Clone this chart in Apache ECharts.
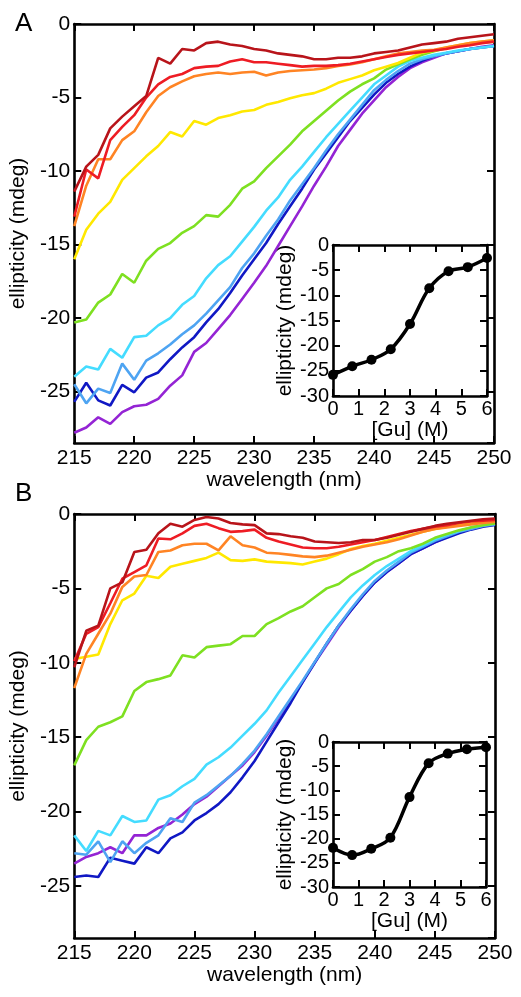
<!DOCTYPE html>
<html>
<head>
<meta charset="utf-8">
<script src="https://cdn.jsdelivr.net/npm/echarts@6/dist/echarts.min.js"></script>
<style>
html,body{margin:0;padding:0;background:#fff;}
#chart{width:521px;height:997px;}
</style>
</head>
<body>
<div id="chart"></div>
<script>
// ---------- data ----------
const wavelength = [215,216,217,218,219,220,221,222,223,224,225,226,227,228,229,230,231,232,233,234,235,236,237,238,239,240,241,242,243,244,245,246,247,248,249,250];
const seriesColors = ['#b8141a','#ee1c24','#ff8424','#ffe800','#7ee021','#44dcff','#4ea4f2','#1018c4','#9424d4'];

// Panel A spectra (mdeg)
const A_darkred = [-11.4,-9.7,-8.9,-7.1,-6.3,-5.6,-4.9,-2.3,-2.7,-1.7,-1.8,-1.3,-1.2,-1.4,-1.5,-1.7,-1.8,-2.0,-2.1,-2.2,-2.4,-2.4,-2.3,-2.3,-2.2,-2.0,-1.9,-1.8,-1.6,-1.4,-1.3,-1.2,-1.0,-0.9,-0.8,-0.7];
const A_red = [-13.1,-9.9,-10.5,-7.9,-7.0,-6.2,-5.0,-4.1,-3.6,-3.4,-3.0,-2.9,-2.85,-2.55,-2.4,-2.6,-2.6,-2.7,-2.8,-2.9,-2.85,-2.85,-2.8,-2.7,-2.55,-2.4,-2.25,-2.1,-2.0,-1.9,-1.8,-1.7,-1.55,-1.45,-1.3,-1.2];
const A_orange = [-13.75,-11.0,-9.2,-9.2,-7.9,-7.3,-6.0,-4.9,-4.3,-3.9,-3.55,-3.4,-3.3,-3.4,-3.3,-3.25,-3.5,-3.3,-3.2,-3.15,-3.1,-3.0,-2.85,-2.75,-2.6,-2.4,-2.2,-2.0,-1.9,-1.8,-1.75,-1.6,-1.45,-1.3,-1.2,-1.1];
const A_yellow = [-16.0,-14.0,-12.9,-12.1,-10.6,-9.8,-9.0,-8.3,-7.35,-7.65,-6.6,-6.85,-6.4,-6.2,-5.95,-5.85,-5.5,-5.3,-5.05,-4.85,-4.7,-4.4,-4.0,-3.75,-3.5,-3.15,-2.9,-2.65,-2.3,-1.95,-1.8,-1.6,-1.45,-1.3,-1.2,-1.1];
const A_green = [-20.3,-20.1,-18.95,-18.4,-17.0,-17.6,-16.1,-15.3,-14.9,-14.2,-13.75,-13.0,-13.1,-12.3,-11.2,-10.7,-9.8,-9.0,-8.2,-7.3,-6.6,-5.9,-5.2,-4.6,-4.1,-3.7,-3.1,-2.75,-2.4,-2.1,-1.85,-1.65,-1.5,-1.35,-1.25,-1.2];
const A_cyan = [-24.0,-23.3,-23.5,-22.1,-22.7,-21.3,-21.2,-20.5,-20.0,-19.1,-18.5,-17.3,-16.4,-15.8,-14.8,-13.8,-12.7,-11.8,-10.6,-9.7,-8.7,-7.7,-6.8,-5.9,-5.0,-4.1,-3.5,-2.9,-2.5,-2.3,-2.1,-1.95,-1.8,-1.7,-1.6,-1.5];
const A_lightblue = [-24.5,-25.8,-24.8,-25.1,-23.1,-24.2,-22.9,-22.4,-21.8,-21.1,-20.5,-19.7,-18.8,-17.9,-16.6,-15.6,-14.4,-13.3,-12.0,-10.9,-9.8,-8.6,-7.5,-6.5,-5.5,-4.5,-3.8,-3.2,-2.7,-2.4,-2.2,-2.0,-1.85,-1.7,-1.6,-1.5];
const A_blue = [-25.7,-24.4,-25.6,-25.95,-24.55,-25.05,-24.05,-23.7,-22.8,-22.0,-21.3,-20.3,-19.4,-18.3,-17.1,-16.0,-14.9,-13.6,-12.4,-11.2,-9.9,-8.8,-7.7,-6.6,-5.7,-4.8,-4.0,-3.4,-2.9,-2.5,-2.2,-2.0,-1.85,-1.7,-1.6,-1.5];
const A_purple = [-27.8,-27.45,-26.75,-27.2,-26.4,-26.0,-25.9,-25.5,-24.6,-23.9,-22.3,-21.7,-20.75,-19.8,-18.7,-17.6,-16.45,-15.1,-13.75,-12.4,-11.0,-9.7,-8.3,-7.2,-6.1,-5.2,-4.3,-3.6,-3.0,-2.6,-2.3,-2.0,-1.85,-1.7,-1.55,-1.45];

// Panel B spectra (mdeg)
const B_darkred = [-10.3,-7.85,-7.5,-5.0,-4.6,-2.55,-2.4,-1.3,-0.65,-0.85,-0.4,-0.2,-0.3,-0.6,-0.7,-0.75,-1.3,-1.35,-1.5,-1.6,-1.85,-1.9,-1.95,-1.9,-1.75,-1.75,-1.6,-1.4,-1.2,-1.0,-0.8,-0.65,-0.55,-0.45,-0.35,-0.3];
const B_red = [-9.9,-8.05,-7.6,-6.0,-4.35,-3.9,-3.45,-1.65,-1.7,-1.3,-0.8,-0.65,-0.95,-1.2,-1.15,-1.05,-1.6,-1.85,-2.05,-2.25,-2.3,-2.3,-2.2,-2.05,-1.9,-1.75,-1.55,-1.35,-1.15,-1.0,-0.85,-0.75,-0.6,-0.5,-0.45,-0.4];
const B_orange = [-11.7,-9.4,-8.05,-6.7,-4.9,-4.2,-4.1,-2.55,-2.45,-2.1,-2.0,-2.0,-2.45,-1.5,-2.1,-2.25,-2.6,-2.65,-2.75,-2.85,-2.9,-2.8,-2.6,-2.4,-2.2,-2.05,-1.9,-1.7,-1.45,-1.2,-1.0,-0.9,-0.8,-0.7,-0.6,-0.52];
const B_yellow = [-9.75,-9.6,-9.45,-7.4,-5.8,-5.35,-4.15,-4.3,-3.55,-3.35,-3.15,-2.95,-2.6,-3.1,-3.15,-3.05,-3.2,-3.25,-3.3,-3.4,-3.2,-3.0,-2.7,-2.35,-2.15,-2.0,-1.8,-1.6,-1.4,-1.2,-1.0,-0.85,-0.75,-0.65,-0.55,-0.5];
const B_green = [-16.9,-15.2,-14.3,-14.0,-13.6,-11.9,-11.3,-11.1,-10.85,-9.5,-9.65,-8.95,-8.85,-8.75,-8.2,-8.2,-7.4,-7.0,-6.55,-6.2,-5.6,-5.0,-4.7,-4.1,-3.7,-3.2,-2.9,-2.5,-2.3,-2.0,-1.6,-1.35,-1.1,-0.9,-0.75,-0.63];
const B_cyan = [-21.6,-22.65,-21.3,-21.6,-20.3,-20.7,-20.6,-19.2,-18.9,-18.3,-17.8,-16.85,-16.35,-15.7,-14.9,-14.1,-13.2,-12.0,-10.9,-9.8,-8.7,-7.6,-6.6,-5.6,-4.8,-4.1,-3.5,-3.0,-2.5,-2.1,-1.7,-1.4,-1.15,-0.9,-0.75,-0.63];
const B_lightblue = [-22.8,-22.9,-22.0,-23.4,-22.0,-22.8,-22.1,-21.6,-20.45,-20.7,-19.4,-18.9,-18.25,-17.6,-16.8,-15.9,-14.8,-13.6,-12.4,-11.2,-9.95,-8.7,-7.5,-6.4,-5.4,-4.5,-3.8,-3.2,-2.6,-2.2,-1.8,-1.5,-1.2,-1.0,-0.8,-0.7];
const B_blue = [-24.4,-24.3,-24.4,-23.1,-23.3,-23.5,-22.4,-22.8,-21.8,-21.4,-20.6,-20.1,-19.5,-18.7,-17.7,-16.6,-15.3,-14.0,-12.7,-11.3,-10.0,-8.7,-7.5,-6.5,-5.5,-4.6,-3.9,-3.3,-2.7,-2.3,-1.9,-1.6,-1.3,-1.05,-0.85,-0.74];
const B_purple = [-23.5,-23.05,-22.8,-22.4,-22.8,-21.6,-21.6,-21.1,-20.8,-20.2,-19.5,-19.0,-18.3,-17.6,-16.9,-16.0,-14.9,-13.7,-12.5,-11.3,-10.0,-8.8,-7.6,-6.5,-5.5,-4.6,-3.9,-3.3,-2.7,-2.3,-1.9,-1.55,-1.25,-1.0,-0.8,-0.7];

// Insets: ellipticity vs [Gu]
const gu = [0,0.75,1.5,2.25,3,3.75,4.5,5.25,6];
const insetA = [-25.8,-24.1,-22.8,-20.7,-15.7,-8.6,-5.2,-4.4,-2.6];
const insetB = [-21.9,-23.4,-22.1,-19.8,-11.4,-4.4,-2.4,-1.5,-1.1];

// tick labels
const xTicksMain = [215,220,225,230,235,240,245,250];
const panelLabels = ['A','B'];

// ---------- chart ----------
const FONT = '"Liberation Sans", Arial, Helvetica, sans-serif';
const chart = echarts.init(document.getElementById('chart'), null, {renderer:'canvas'});

function axisBase(showLabel, fs, margin){
  return {
    axisLine:{show:true, onZero:false, lineStyle:{color:'#000', width:2.6}},
    axisTick:{show:true, inside:true, length:7, lineStyle:{color:'#000', width:2}},
    axisLabel:{show:showLabel, color:'#000', fontSize:fs, fontFamily:FONT, margin:margin},
    splitLine:{show:false}
  };
}

const grids = [
  {left:73, top:24, width:421, height:419},
  {left:333, top:245, width:154, height:151},
  {left:73, top:514, width:422, height:424},
  {left:333, top:742, width:153, height:145}
];

const xAxes = [];
const yAxes = [];
// main grids (0 and 2)
[0,2].forEach(g => {
  xAxes.push(Object.assign(axisBase(true,21,5), {
    type:'value', gridIndex:g, position:'bottom', min:xTicksMain[0], max:xTicksMain[xTicksMain.length-1], interval:5,
    name:'wavelength (nm)', nameLocation:'middle', nameGap:25,
    nameTextStyle:{color:'#000', fontSize:21, fontFamily:FONT}
  }));
  xAxes.push(Object.assign(axisBase(false,21,5), {
    type:'value', gridIndex:g, position:'top', min:xTicksMain[0], max:xTicksMain[xTicksMain.length-1], interval:5
  }));
  const yl = axisBase(true,21,4);
  yl.axisLabel.showMinLabel = false;
  yAxes.push(Object.assign(yl, {
    type:'value', gridIndex:g, position:'left', min:-28.5, max:0, splitNumber:5,
    name:'ellipticity (mdeg)', nameLocation:'middle', nameGap:40, nameRotate:90,
    nameTextStyle:{color:'#000', fontSize:21, fontFamily:FONT}
  }));
  yAxes.push(Object.assign(axisBase(false,21,4), {
    type:'value', gridIndex:g, position:'right', min:-28.5, max:0, splitNumber:5
  }));
});
// inset grids (1 and 3)
[1,3].forEach(g => {
  xAxes.push(Object.assign(axisBase(true,20,3), {
    type:'value', gridIndex:g, position:'bottom', min:0, max:6, interval:1,
    name:'[Gu] (M)', nameLocation:'middle', nameGap:23,
    nameTextStyle:{color:'#000', fontSize:21, fontFamily:FONT}
  }));
  xAxes.push(Object.assign(axisBase(false,20,3), {
    type:'value', gridIndex:g, position:'top', min:0, max:6, interval:1
  }));
  yAxes.push(Object.assign(axisBase(true,20,4), {
    type:'value', gridIndex:g, position:'left', min:-30, max:0, interval:5,
    name:'ellipticity (mdeg)', nameLocation:'middle', nameGap:35, nameRotate:90,
    nameTextStyle:{color:'#000', fontSize:21, fontFamily:FONT}
  }));
  yAxes.push(Object.assign(axisBase(false,20,4), {
    type:'value', gridIndex:g, position:'right', min:-30, max:0, interval:5
  }));
});
// axis index map: xAxes order: [g0 bottom, g0 top, g2 bottom, g2 top, g1 bottom, g1 top, g3 bottom, g3 top]
const xIdx = {0:0, 2:2, 1:4, 3:6};
const yIdx = {0:0, 2:2, 1:4, 3:6};

const pairs = vals => wavelength.map((w,i) => [w, vals[i]]);
const A_sets = [A_darkred,A_red,A_orange,A_yellow,A_green,A_cyan,A_lightblue,A_blue,A_purple];
const B_sets = [B_darkred,B_red,B_orange,B_yellow,B_green,B_cyan,B_lightblue,B_blue,B_purple];

const series = [];
[[A_sets,0],[B_sets,2]].forEach(([sets,g]) => {
  for (let i = sets.length-1; i >= 0; i--) {
    series.push({
      type:'line', xAxisIndex:xIdx[g], yAxisIndex:yIdx[g], data:pairs(sets[i]),
      showSymbol:false, symbol:'none', lineStyle:{color:seriesColors[i], width:2.6},
      itemStyle:{color:seriesColors[i]}, silent:true, z:2
    });
  }
});
[[insetA,1],[insetB,3]].forEach(([vals,g]) => {
  series.push({
    type:'line', xAxisIndex:xIdx[g], yAxisIndex:yIdx[g], data:gu.map((c,i)=>[c, vals[i]]),
    smooth:0.35, symbol:'circle', symbolSize:10, showSymbol:true,
    lineStyle:{color:'#000', width:3.5}, itemStyle:{color:'#000'}, z:3
  });
});

chart.setOption({
  animation:false,
  backgroundColor:'#fff',
  title: [
    {text:panelLabels[0], left:10, top:6, textStyle:{fontSize:26, fontWeight:'normal', color:'#000', fontFamily:FONT}},
    {text:panelLabels[1], left:10, top:476, textStyle:{fontSize:26, fontWeight:'normal', color:'#000', fontFamily:FONT}}
  ],
  grid: grids,
  xAxis: xAxes,
  yAxis: yAxes,
  series: series
});
</script>
</body>
</html>
